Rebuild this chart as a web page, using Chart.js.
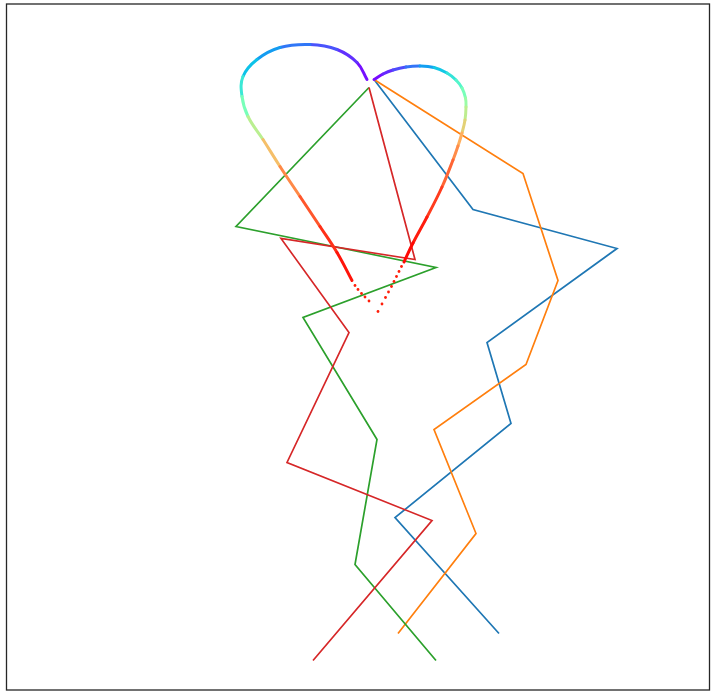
<!DOCTYPE html>
<html>
<head>
<meta charset="utf-8">
<script src="https://cdn.jsdelivr.net/npm/chart.js@4/dist/chart.umd.min.js"></script>
<style>
  html, body { margin: 0; padding: 0; background: #ffffff; }
  #wrap { width: 716px; height: 696px; }
</style>
</head>
<body>
<div id="wrap"><canvas id="c" width="716" height="696"></canvas></div>
<script>
// ---- data ----
const blueX   = [367, 466, 610, 480, 504, 388, 492];
const blueY   = [610, 480, 441, 347, 266, 172, 56];
const orangeX = [367, 516, 551, 519, 427, 469, 391];
const orangeY = [610, 516, 409, 325, 260, 156, 56];
const greenX  = [362, 229, 429, 296, 370, 348, 429];
const greenY  = [602, 463, 422, 372, 250, 125, 29];
const redX    = [362, 408, 274, 342, 280, 425, 306];
const redY    = [602, 430, 451, 357, 227, 169, 29];

// heart: left lobe (solid part)
const heartLX = [360, 350, 330, 303, 273, 250, 236, 235, 241, 256, 273, 293, 313, 330, 345];
const heartLY = [610, 627, 640, 645, 642, 630, 613, 593, 573, 550, 523, 493, 463, 437, 409];
const heartLC = [0, 0.04, 0.08, 0.13, 0.18, 0.24, 0.31, 0.42, 0.55, 0.68, 0.78, 0.86, 0.92, 0.96, 0.99];
// heart: left lobe sparse tail dots
const heartLDotX = [348, 351, 354.5, 358, 362];
const heartLDotY = [404, 400, 396, 392.5, 388.5];
// heart: right lobe (solid part)
const heartRX = [367, 376, 386, 399, 413, 427, 440, 449, 455, 458.5, 459, 458, 455, 451, 446, 435, 420, 406, 397];
const heartRY = [610, 615.5, 619.5, 622.5, 623.5, 622, 616.5, 609.5, 601.5, 591.5, 582.5, 569.5, 556.5, 543.5, 529.5, 502.5, 472.5, 446.5, 427.5];
const heartRC = [0, 0.03, 0.07, 0.12, 0.18, 0.25, 0.32, 0.38, 0.45, 0.52, 0.58, 0.66, 0.73, 0.79, 0.84, 0.9, 0.95, 0.98, 1];
// heart: right lobe sparse tail dots
const heartRDotX = [394.5, 392, 389.5, 387, 384.5, 381.5, 378.5, 375, 371];
const heartRDotY = [423, 418, 413, 408, 403, 397.5, 392, 385.5, 378];

// ---- helpers ----
function pts(xs, ys) { return xs.map((x, i) => ({ x: x, y: ys[i] })); }
function rainbow(v) {
  v = Math.max(0, Math.min(1, v));
  const r = Math.min(1, Math.abs(2 * v - 0.5));
  const g = Math.sin(Math.PI * v);
  const b = Math.cos(Math.PI * v / 2);
  return 'rgb(' + Math.round(r * 255) + ',' + Math.round(g * 255) + ',' + Math.round(b * 255) + ')';
}
function lobeDataset(xs, ys, cs) {
  return {
    data: pts(xs, ys),
    showLine: true,
    borderWidth: 3,
    pointRadius: 0,
    tension: 0.4,
    borderCapStyle: 'round',
    borderColor: rainbow(0),
    segment: {
      borderColor: ctx => rainbow((cs[ctx.p0DataIndex] + cs[ctx.p1DataIndex]) / 2)
    }
  };
}
function dotDataset(xs, ys) {
  return {
    data: pts(xs, ys),
    showLine: false,
    pointRadius: 1.4,
    pointBorderWidth: 0,
    pointBackgroundColor: 'rgb(255,30,10)',
    pointBorderColor: 'rgb(255,30,10)'
  };
}
function lineDataset(xs, ys, color) {
  return {
    data: pts(xs, ys),
    showLine: true,
    borderWidth: 1.7,
    borderColor: color,
    pointRadius: 0,
    tension: 0
  };
}

const framePlugin = {
  id: 'frame',
  afterDraw(chart) {
    const a = chart.chartArea, ctx = chart.ctx;
    ctx.save();
    ctx.strokeStyle = '#262626';
    ctx.lineWidth = 1.3;
    ctx.strokeRect(a.left, a.top, a.right - a.left, a.bottom - a.top);
    ctx.restore();
  }
};

new Chart(document.getElementById('c'), {
  type: 'scatter',
  data: {
    datasets: [
      lobeDataset(heartLX, heartLY, heartLC),
      lobeDataset(heartRX, heartRY, heartRC),
      dotDataset(heartLDotX, heartLDotY),
      dotDataset(heartRDotX, heartRDotY),
      lineDataset(redX, redY, '#d62728'),
      lineDataset(greenX, greenY, '#2ca02c'),
      lineDataset(orangeX, orangeY, '#ff7f0e'),
      lineDataset(blueX, blueY, '#1f77b4')
    ]
  },
  options: {
    responsive: false,
    animation: false,
    events: [],
    layout: { padding: { left: 6.5, top: 4, right: 6.5, bottom: 6 } },
    plugins: { legend: { display: false }, tooltip: { enabled: false } },
    scales: {
      x: { type: 'linear', display: false, min: -0.5, max: 702.5 },
      y: { type: 'linear', display: false, min: -0.5, max: 685.5 }
    }
  },
  plugins: [framePlugin]
});
</script>
</body>
</html>
